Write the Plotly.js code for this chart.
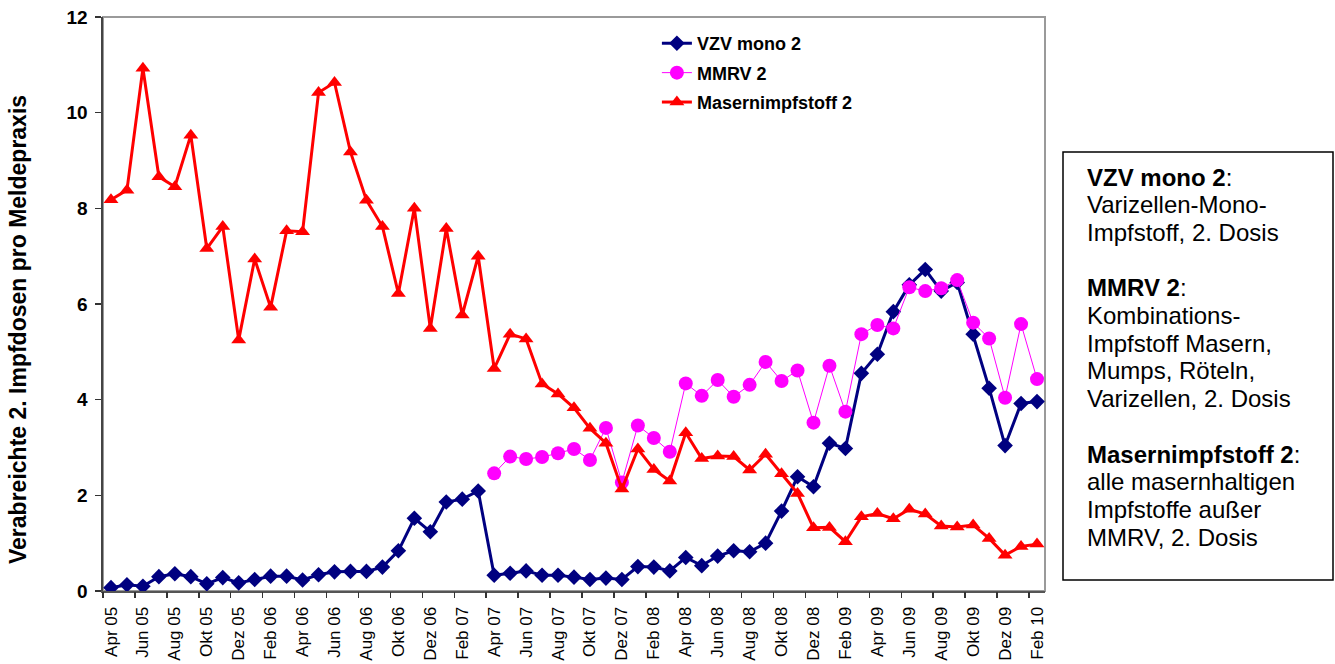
<!DOCTYPE html>
<html>
<head>
<meta charset="utf-8">
<script src="https://cdn.plot.ly/plotly-3.0.1.min.js"></script>
<style>html,body{margin:0;padding:0;background:#fff;}#chart{width:1335px;height:664px;}</style>
</head>
<body>
<div id="chart"></div>
<script>
const months = [
  "Apr 05","Mai 05","Jun 05","Jul 05","Aug 05","Sep 05","Okt 05","Nov 05","Dez 05",
  "Jan 06","Feb 06","Mär 06","Apr 06","Mai 06","Jun 06","Jul 06","Aug 06","Sep 06","Okt 06","Nov 06","Dez 06",
  "Jan 07","Feb 07","Mär 07","Apr 07","Mai 07","Jun 07","Jul 07","Aug 07","Sep 07","Okt 07","Nov 07","Dez 07",
  "Jan 08","Feb 08","Mär 08","Apr 08","Mai 08","Jun 08","Jul 08","Aug 08","Sep 08","Okt 08","Nov 08","Dez 08",
  "Jan 09","Feb 09","Mär 09","Apr 09","Mai 09","Jun 09","Jul 09","Aug 09","Sep 09","Okt 09","Nov 09","Dez 09",
  "Jan 10","Feb 10"
];

const vzvMono2 = [
  0.07,0.13,0.10,0.30,0.36,0.30,0.15,0.28,0.17,
  0.24,0.31,0.31,0.23,0.34,0.40,0.41,0.41,0.50,0.84,1.52,1.24,
  1.86,1.92,2.09,0.33,0.37,0.42,0.33,0.33,0.29,0.24,0.27,0.24,
  0.51,0.50,0.42,0.70,0.53,0.73,0.84,0.82,1.00,1.67,2.39,2.18,
  3.09,2.98,4.55,4.95,5.84,6.40,6.72,6.27,6.45,5.37,4.24,3.04,
  3.92,3.96
];

const mmrv2 = [
  null,null,null,null,null,null,null,null,null,
  null,null,null,null,null,null,null,null,null,null,null,null,
  null,null,null,2.46,2.81,2.76,2.80,2.88,2.97,2.74,3.41,2.27,
  3.46,3.20,2.91,4.34,4.08,4.41,4.06,4.31,4.79,4.39,4.61,3.52,
  4.71,3.75,5.37,5.56,5.49,6.35,6.27,6.33,6.50,5.61,5.28,4.04,
  5.58,4.43
];

const masern2 = [
  8.18,8.38,10.93,8.66,8.45,9.53,7.16,7.62,5.25,
  6.94,5.93,7.53,7.51,10.42,10.63,9.18,8.17,7.62,6.22,8.00,5.49,
  7.58,5.77,7.00,4.65,5.37,5.27,4.33,4.12,3.83,3.40,3.09,2.13,
  2.97,2.54,2.30,3.31,2.77,2.82,2.81,2.53,2.86,2.45,2.04,1.32,
  1.33,1.03,1.55,1.62,1.51,1.71,1.61,1.36,1.34,1.38,1.10,0.75,
  0.93,0.98
];

const seriesNames = ["VZV mono 2","MMRV 2","Masernimpfstoff 2"];
const yTicks = [0,2,4,6,8,10,12];
const yTitle = "Verabreichte 2. Impfdosen pro Meldepraxis";

const noteLines = [
  "<b>VZV mono 2</b>:", "Varizellen-Mono-", "Impfstoff, 2. Dosis", "",
  "<b>MMRV 2</b>:", "Kombinations-", "Impfstoff Masern,", "Mumps, Röteln,", "Varizellen, 2. Dosis", "",
  "<b>Masernimpfstoff 2</b>:", "alle masernhaltigen", "Impfstoffe außer", "MMRV, 2. Dosis"
];

const labelVals = months.filter((m,i)=>i%2===0);
const boundaryTicks = [];
for (let i = 0; i <= months.length; i += 2) boundaryTicks.push(i - 0.5);

const font = "Arial, 'Liberation Sans', sans-serif";

const traces = [
  {x: months, y: vzvMono2, name: seriesNames[0], type: "scatter", mode: "lines+markers",
   legendgroup: "a", line: {color: "#000080", width: 3},
   marker: {symbol: "diamond", size: 12, color: "#000080"}},
  {x: months, y: mmrv2, name: seriesNames[1], type: "scatter", mode: "lines+markers",
   legendgroup: "b", line: {color: "#FF00FF", width: 1},
   marker: {symbol: "circle", size: 14, color: "#FF00FF"}},
  {x: months, y: masern2, name: seriesNames[2], type: "scatter", mode: "lines+markers",
   legendgroup: "c", line: {color: "#FF0000", width: 3},
   marker: {symbol: "triangle-up", size: 13, color: "#FF0000"}},
  {x: [boundaryTicks[0], boundaryTicks[boundaryTicks.length-1]], y: [null, null], xaxis: "x2",
   type: "scatter", mode: "lines", showlegend: false, hoverinfo: "skip"}
];

// plot area in pixels: left 103, top 17, width 942, height 574
const plotL = 103, plotW = 942, plotTop = 17, plotH = 574;
const annotations = noteLines.map((t, i) => ({
  xref: "paper", yref: "paper", x: (1085 - plotL) / plotW,
  y: (plotTop + plotH - (177 + i * 27.7)) / plotH,
  xanchor: "left", yanchor: "middle", align: "left", showarrow: false,
  font: {family: font, size: 24, color: "#000"}, text: t
})).filter(a => a.text !== "");

annotations.push({
  xref: "paper", yref: "paper", x: (18 - plotL) / plotW, y: (plotTop + plotH - 330) / plotH,
  xanchor: "center", yanchor: "middle", textangle: -90, showarrow: false,
  font: {family: font, size: 23, color: "#000", weight: "bold"}, text: yTitle
});

const layout = {
  width: 1335, height: 664,
  margin: {l: 103, r: 290, t: 17, b: 73, pad: 0},
  paper_bgcolor: "#ffffff", plot_bgcolor: "#ffffff",
  font: {family: font, color: "#000"},
  showlegend: true,
  legend: {
    x: 0.588, y: 0.986, xanchor: "left", yanchor: "top",
    bgcolor: "rgba(0,0,0,0)", borderwidth: 0,
    traceorder: "grouped", tracegroupgap: 3,
    font: {family: font, size: 18, color: "#000", weight: "bold"}
  },
  xaxis: {
    type: "category", categoryorder: "array", categoryarray: months,
    range: [-0.5, months.length - 0.5],
    tickmode: "array", tickvals: labelVals, ticktext: labelVals,
    tickangle: -90, ticks: "", ticklen: 0, ticklabelstandoff: 7,
    tickfont: {family: font, size: 17, color: "#000"},
    showline: true, linecolor: "#555", linewidth: 2,
    showgrid: false, zeroline: false, fixedrange: true, automargin: false
  },
  xaxis2: {
    overlaying: "x", anchor: "y", side: "bottom",
    range: [-0.5, months.length - 0.5],
    tickmode: "array", tickvals: boundaryTicks, showticklabels: false,
    ticks: "outside", ticklen: 6, tickwidth: 1.5, tickcolor: "#333",
    showline: false, showgrid: false, zeroline: false, fixedrange: true
  },
  yaxis: {
    range: [0, 12], tickmode: "array", tickvals: yTicks,
    ticks: "outside", ticklen: 6, tickwidth: 1.5, tickcolor: "#333",
    ticklabelstandoff: 3,
    tickfont: {family: font, size: 19, color: "#000", weight: "bold"},
    showline: true, linecolor: "#444", linewidth: 2.5,
    showgrid: false, zeroline: false, fixedrange: true, automargin: false
  },
  shapes: [
    {type: "rect", xref: "paper", yref: "paper", x0: 0, x1: 1, y0: 0, y1: 1,
     line: {color: "#9a9a9a", width: 2}, layer: "below"},
    {type: "rect", xref: "paper", yref: "paper", x0: (1063 - plotL) / plotW, x1: (1333 - plotL) / plotW,
     y0: (plotTop + plotH - 580) / plotH, y1: (plotTop + plotH - 152) / plotH,
     line: {color: "#000", width: 1.5}}
  ],
  annotations: annotations
};

Plotly.newPlot("chart", traces, layout, {displayModeBar: false, staticPlot: true});
</script>
</body>
</html>
